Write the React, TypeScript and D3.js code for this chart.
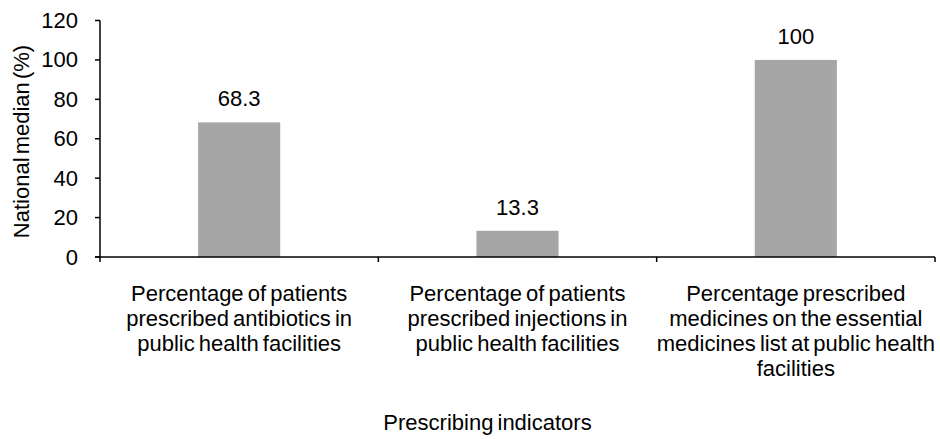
import React from "react";
import * as d3 from "d3";

const categories: string[][] = [
  ["Percentage of patients", "prescribed antibiotics in", "public health facilities"],
  ["Percentage of patients", "prescribed injections in", "public health facilities"],
  ["Percentage prescribed", "medicines on the essential", "medicines list at public health", "facilities"],
];
const values: number[] = [68.3, 13.3, 100];
const valueLabels: string[] = ["68.3", "13.3", "100"];
const yTicks: number[] = [0, 20, 40, 60, 80, 100, 120];
const yTitle = "National median (%)";
const xTitle = "Prescribing indicators";

const W = 940;
const H = 439;
const FONT = "'Liberation Sans', Arial, sans-serif";

export default function App() {
  const x0 = 100;
  const x1 = 935;
  const yTop = 20.5;
  const yBase = 257;
  const idx = categories.map((_, i) => String(i));
  const x = d3.scaleBand<string>().domain(idx).range([x0, x1]).paddingInner(0.705).paddingOuter(0.3525);
  const band = d3.scaleBand<string>().domain(idx).range([x0, x1]);
  const y = d3.scaleLinear().domain([0, 120]).range([yBase, yTop]);
  const fs = 22;

  return (
    <div style={{ position: "absolute", left: 0, top: 0 }}>
      <svg width={W} height={H} style={{ display: "block", background: "#fff" }} fontFamily={FONT}>
        {/* bars */}
        {values.map((v, i) => (
          <rect
            key={"b" + i}
            x={x(String(i))}
            y={y(v)}
            width={x.bandwidth()}
            height={yBase - y(v)}
            fill="#a6a6a6"
          />
        ))}
        {/* value labels */}
        {values.map((v, i) => (
          <text
            key={"v" + i}
            x={(x(String(i)) as number) + x.bandwidth() / 2}
            y={y(v) - 16}
            textAnchor="middle"
            fontSize={fs}
            fill="#000"
          >
            {valueLabels[i]}
          </text>
        ))}
        {/* y axis */}
        <line x1={x0} x2={x0} y1={yTop} y2={yBase} stroke="#000" strokeWidth={1.5} />
        {yTicks.map((t) => (
          <g key={"yt" + t}>
            <line x1={x0 - 5} x2={x0} y1={y(t)} y2={y(t)} stroke="#000" strokeWidth={1.5} />
            <text x={x0 - 22} y={y(t) + 7.5} textAnchor="end" fontSize={fs} fill="#000">
              {t}
            </text>
          </g>
        ))}
        {/* x axis */}
        <line x1={x0 - 5} x2={x1} y1={yBase} y2={yBase} stroke="#000" strokeWidth={1.5} />
        {[...idx.map((d) => band(d) as number), x1].map((px, i) => (
          <line key={"xt" + i} x1={px} x2={px} y1={yBase} y2={yBase + 5} stroke="#000" strokeWidth={1.5} />
        ))}
        {/* category labels */}
        {categories.map((lines, i) => (
          <text
            key={"c" + i}
            x={(band(String(i)) as number) + band.bandwidth() / 2}
            y={300.5}
            textAnchor="middle"
            fontSize={fs}
            fill="#000"
            wordSpacing={-2}
          >
            {lines.map((ln, j) => (
              <tspan key={j} x={(band(String(i)) as number) + band.bandwidth() / 2} dy={j === 0 ? 0 : 25}>
                {ln}
              </tspan>
            ))}
          </text>
        ))}
        {/* axis titles */}
        <text
          transform={`translate(29, 141.5) rotate(-90)`}
          textAnchor="middle"
          fontSize={fs}
          fill="#000"
          wordSpacing={-3}
        >
          {yTitle}
        </text>
        <text x={487.5} y={430} textAnchor="middle" fontSize={fs} fill="#000" wordSpacing={-2}>
          {xTitle}
        </text>
      </svg>
    </div>
  );
}
